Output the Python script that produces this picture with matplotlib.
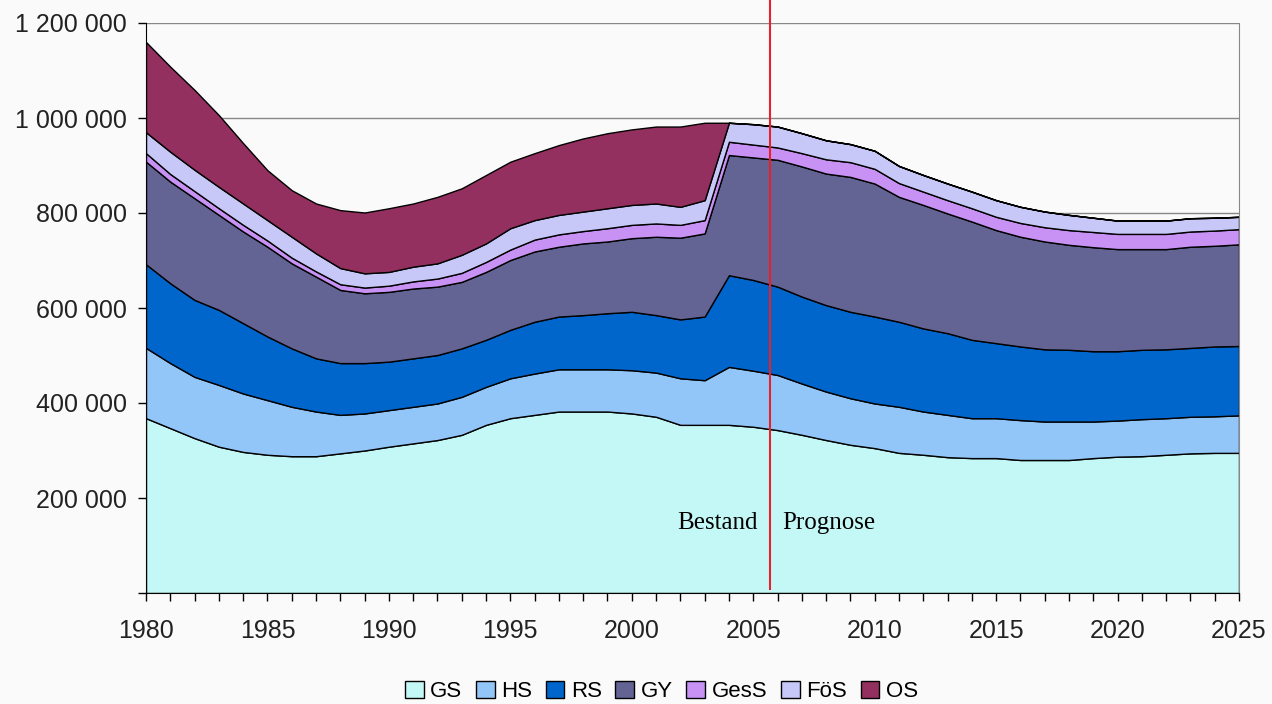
import matplotlib
matplotlib.use("Agg")
import matplotlib.pyplot as plt
from matplotlib.ticker import FuncFormatter, MultipleLocator

years = list(range(1980, 2026))
series_names = ["GS", "HS", "RS", "GY", "GesS", "FöS", "OS"]

GS = [368, 347, 326, 308, 297, 291, 288, 288, 294, 300, 308, 315, 322, 333, 354, 368,
      375, 382, 382, 382, 378, 371, 354, 354, 354, 350, 343, 333, 322, 312, 305, 295,
      291, 286, 284, 284, 280, 280, 280, 284, 287, 288, 291, 294, 295, 295]
HS = [148, 137, 129, 130, 123, 115, 104, 94, 81, 78, 77, 77, 77, 80, 80, 84,
      87, 89, 89, 89, 91, 93, 98, 94, 122, 118, 116, 108, 102, 98, 94, 97,
      91, 89, 84, 84, 84, 81, 81, 77, 76, 78, 77, 77, 77, 79]
RS = [176, 168, 162, 158, 148, 134, 123, 112, 109, 106, 102, 102, 102, 102, 99, 102,
      109, 111, 114, 118, 123, 121, 124, 134, 193, 191, 186, 183, 182, 182, 183, 179,
      175, 172, 165, 158, 155, 152, 151, 148, 146, 146, 145, 145, 147, 146]
GY = [216, 214, 214, 200, 193, 189, 179, 172, 154, 147, 147, 147, 144, 140, 143, 147,
      148, 147, 151, 151, 155, 165, 172, 175, 253, 258, 267, 274, 277, 284, 280, 263,
      260, 252, 249, 238, 231, 227, 221, 219, 215, 212, 211, 213, 212, 214]
GesS = [18, 16, 15, 14, 14, 13, 12, 11, 12, 12, 13, 15, 17, 19, 21, 22,
        25, 26, 26, 28, 28, 28, 27, 28, 28, 27, 26, 28, 30, 31, 31, 29,
        28, 28, 28, 28, 29, 30, 31, 32, 32, 32, 32, 32, 32, 32]
FoeS = [44, 47, 45, 45, 45, 43, 44, 38, 34, 30, 29, 31, 32, 38, 39, 45,
        41, 41, 41, 42, 42, 42, 38, 42, 40, 43, 44, 42, 40, 38, 38, 36,
        35, 35, 35, 35, 34, 33, 32, 30, 28, 28, 28, 28, 27, 26]
OS = [190, 179, 168, 151, 127, 105, 98, 105, 122, 128, 134, 133, 140, 140, 144, 140,
      141, 147, 154, 158, 159, 162, 169, 163, 0, 0, 0, 0, 0, 0, 0, 0,
      0, 0, 0, 0, 0, 0, 0, 0, 0, 0, 0, 0, 0, 0]

colors = ["#C4F8F6", "#93C6F8", "#0066CC", "#636394", "#C891F4", "#C8C8F8", "#943060"]
bg = "#FAFAFA"

yticks = [0, 200000, 400000, 600000, 800000, 1000000, 1200000]
xticks_major = list(range(1980, 2026, 5))
split_year = 2005.7

plt.rcParams["font.family"] = ["Liberation Sans", "DejaVu Sans"]

fig = plt.figure(figsize=(12.72, 7.04), dpi=100, facecolor=bg)
ax = fig.add_axes([146 / 1272, 1 - 593 / 704, (1239 - 146) / 1272, (593 - 23) / 704])
ax.set_facecolor(bg)

data = [[v * 1000 for v in s] for s in (GS, HS, RS, GY, GesS, FoeS, OS)]
polys = ax.stackplot(years, *data, colors=colors, edgecolor="black", linewidth=1.0,
                     labels=series_names, zorder=2)

ax.set_xlim(1980, 2025)
ax.set_ylim(0, 1200000)
ax.set_yticks(yticks)
ax.yaxis.set_major_formatter(FuncFormatter(
    lambda v, p: "" if v == 0 else f"{int(v):,}".replace(",", " ")))
ax.set_xticks(xticks_major)
ax.xaxis.set_minor_locator(MultipleLocator(1))
ax.tick_params(axis="both", which="both", direction="out", length=6, width=1,
               labelsize=18, colors="black", labelcolor="#222222")
ax.tick_params(axis="x", which="major", pad=13)
ax.tick_params(axis="y", which="major", pad=8)
ax.set_axisbelow(True)
ax.yaxis.grid(True, color="#888888", linewidth=1)

ax.spines["top"].set_visible(False)
ax.spines["right"].set_color("#888888")
ax.spines["left"].set_color("black")
ax.spines["bottom"].set_color("black")
ax.spines["left"].set_zorder(5)
ax.spines["bottom"].set_zorder(5)

ax.plot([split_year, split_year], [8000, 1250000], color="#E8202A", lw=1.5,
        clip_on=False, zorder=6)

ax.text(2005.2, 147000, "Bestand", ha="right", va="center", fontsize=18,
        family=["Liberation Serif", "DejaVu Serif"], zorder=7)
ax.text(2006.2, 147000, "Prognose", ha="left", va="center", fontsize=18,
        family=["Liberation Serif", "DejaVu Serif"], zorder=7)

fig.legend(handles=polys, labels=series_names, loc="lower center",
           bbox_to_anchor=(0.52, -0.026), ncol=7, frameon=False, fontsize=16,
           handlelength=0.85, handleheight=0.85, handletextpad=0.3, columnspacing=0.6)

fig.savefig("out.png", dpi=100, facecolor=bg)
